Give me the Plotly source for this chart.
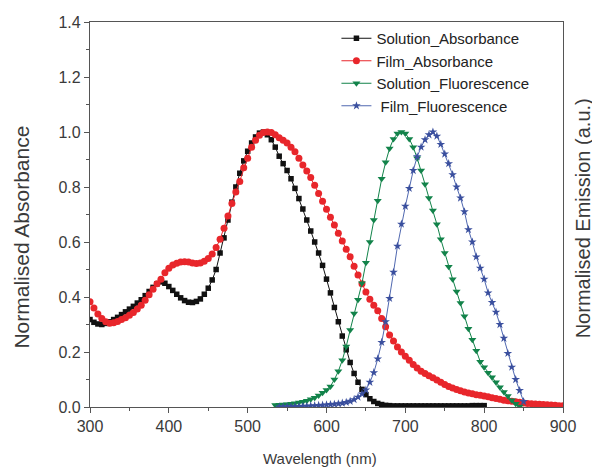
import plotly.graph_objects as go

# ---------------- data ----------------
abs_wl_sol = list(range(300, 805, 5))
sol_abs = [
    0.318, 0.308, 0.302, 0.300, 0.304, 0.310, 0.318, 0.326, 0.336, 0.346,
    0.356, 0.366, 0.378, 0.390, 0.405, 0.420, 0.435, 0.448, 0.455, 0.450,
    0.438, 0.424, 0.410, 0.397, 0.387, 0.381, 0.380, 0.384, 0.393, 0.410,
    0.432, 0.462, 0.500, 0.560, 0.615, 0.680, 0.745, 0.800, 0.850, 0.895,
    0.930, 0.960, 0.982, 0.996, 1.000, 0.990, 0.972, 0.945, 0.912, 0.885,
    0.860, 0.830, 0.795, 0.758, 0.720, 0.680, 0.640, 0.600, 0.560, 0.515,
    0.465, 0.415, 0.362, 0.310, 0.258, 0.208, 0.162, 0.122, 0.090, 0.064,
    0.045, 0.030, 0.020, 0.013, 0.009, 0.006, 0.005, 0.004, 0.004, 0.004,
    0.004, 0.004, 0.004, 0.004, 0.004, 0.004, 0.004, 0.004, 0.004, 0.004,
    0.004, 0.004, 0.004, 0.004, 0.004, 0.004, 0.004, 0.005, 0.005, 0.005,
    0.005,
]

abs_wl_film = list(range(300, 905, 5))
film_abs = [
    0.383, 0.360, 0.338, 0.322, 0.310, 0.305, 0.306, 0.311, 0.318, 0.325,
    0.334, 0.344, 0.356, 0.370, 0.388, 0.408, 0.428, 0.448, 0.465, 0.488,
    0.505, 0.516, 0.523, 0.527, 0.528, 0.527, 0.524, 0.522, 0.524, 0.530,
    0.540, 0.556, 0.580, 0.610, 0.650, 0.695, 0.740, 0.782, 0.820, 0.870,
    0.905, 0.945, 0.970, 0.988, 0.998, 1.000, 0.998, 0.990, 0.979, 0.970,
    0.960, 0.945, 0.928, 0.905, 0.880, 0.858, 0.835, 0.806, 0.776, 0.748,
    0.719, 0.690, 0.662, 0.632, 0.604, 0.574, 0.546, 0.512, 0.480, 0.448,
    0.418, 0.392, 0.370, 0.350, 0.322, 0.292, 0.262, 0.240, 0.218, 0.200,
    0.185, 0.170, 0.155, 0.142, 0.130, 0.122, 0.114, 0.106, 0.098, 0.090,
    0.082, 0.075, 0.069, 0.064, 0.059, 0.055, 0.051, 0.048, 0.045, 0.043,
    0.040, 0.037, 0.034, 0.031, 0.028, 0.025, 0.023, 0.021, 0.019, 0.017,
    0.015, 0.013, 0.012, 0.011, 0.010, 0.009, 0.008, 0.007, 0.006, 0.005,
    0.005,
]

fl_wl_sol = list(range(535, 855, 5))
sol_fl = [
    0.007, 0.008, 0.009, 0.010, 0.012, 0.014, 0.016, 0.019, 0.023, 0.028,
    0.034, 0.042, 0.052, 0.062, 0.075, 0.100, 0.130, 0.170, 0.220, 0.280,
    0.340, 0.390, 0.450, 0.525, 0.600, 0.680, 0.750, 0.830, 0.890, 0.940,
    0.975, 0.995, 1.000, 0.995, 0.975, 0.945, 0.905, 0.860, 0.810, 0.760,
    0.715, 0.665, 0.610, 0.560, 0.510, 0.465, 0.420, 0.378, 0.330, 0.285,
    0.245, 0.205, 0.165, 0.145, 0.125, 0.108, 0.090, 0.072, 0.055, 0.040,
    0.025, 0.012, 0.002,
]

fl_wl_film = list(range(540, 855, 5))
film_fl = [
    0.000, 0.000, 0.001, 0.001, 0.002, 0.002, 0.003, 0.003, 0.004, 0.005,
    0.006, 0.007, 0.008, 0.009, 0.010, 0.012, 0.014, 0.017, 0.021, 0.027,
    0.036, 0.048, 0.062, 0.090, 0.125, 0.175, 0.235, 0.310, 0.395, 0.490,
    0.585, 0.665, 0.730, 0.795, 0.860, 0.910, 0.945, 0.972, 0.990, 1.000,
    0.985, 0.955, 0.920, 0.885, 0.845, 0.800, 0.760, 0.710, 0.645, 0.600,
    0.546, 0.505, 0.465, 0.415, 0.380, 0.345, 0.300, 0.250, 0.195, 0.145,
    0.100, 0.060, 0.020,
]

x_ticks = [300, 400, 500, 600, 700, 800, 900]
y_ticks = [0.0, 0.2, 0.4, 0.6, 0.8, 1.0, 1.2, 1.4]

# ---------------- figure ----------------
FONT = "Liberation Sans, Arial, sans-serif"
TXT = "#3a3a3a"
AX = "#555555"

fig = go.Figure()
fig.add_trace(go.Scatter(
    x=abs_wl_sol, y=sol_abs, name="Solution_Absorbance", mode="lines+markers",
    line=dict(color="#111111", width=1),
    marker=dict(symbol="square", size=5.5, color="#111111"),
))
fig.add_trace(go.Scatter(
    x=abs_wl_film, y=film_abs, name="Film_Absorbance", mode="lines+markers",
    line=dict(color="#e8262b", width=1),
    marker=dict(symbol="circle", size=7, color="#e8262b"),
))
fig.add_trace(go.Scatter(
    x=fl_wl_sol, y=sol_fl, name="Solution_Fluorescence", mode="lines+markers",
    line=dict(color="#12834a", width=1),
    marker=dict(symbol="triangle-down", size=7, color="#12834a"),
))
fig.add_trace(go.Scatter(
    x=fl_wl_film, y=film_fl, name=" Film_Fluorescence", mode="lines+markers",
    line=dict(color="#5068b0", width=1),
    marker=dict(symbol="star", size=6.5, color="#3a4f9e"),
))

axis_common = dict(
    showgrid=False, zeroline=False, showline=True, linecolor=AX, linewidth=1.2,
    mirror=True, ticks="outside", ticklen=5, tickcolor=AX, tickwidth=1,
    tickfont=dict(family=FONT, size=16, color=TXT), automargin=False,
)

fig.update_xaxes(
    range=[300, 900], tickvals=x_ticks,
    minor=dict(ticks="outside", ticklen=3, tickcolor=AX, dtick=50),
    **axis_common,
)
fig.update_yaxes(
    range=[0, 1.4], tickvals=y_ticks, tickformat=".1f",
    minor=dict(ticks="outside", ticklen=3, tickcolor=AX, dtick=0.1),
    **axis_common,
)

fig.add_annotation(
    text="Wavelength (nm)", showarrow=False,
    xref="paper", yref="paper", x=0.487, y=0, yshift=-51, yanchor="middle",
    font=dict(family=FONT, size=15, color=TXT),
)
fig.add_annotation(
    text="Normalised Absorbance", textangle=-90, showarrow=False,
    xref="paper", yref="paper", x=0, xshift=-68, y=0.44, xanchor="center", yanchor="middle",
    font=dict(family=FONT, size=21, color=TXT),
)
fig.add_annotation(
    text="Normalised Emission (a.u.)", textangle=-90, showarrow=False,
    xref="paper", yref="paper", x=1.0, xshift=20, y=0.49, xanchor="center", yanchor="middle",
    font=dict(family=FONT, size=20, color=TXT),
)

# page body has an 8 px default margin, so the figure is 8 px smaller
fig.update_layout(
    width=592, height=461,
    margin=dict(l=82, r=37, t=14, b=62),
    plot_bgcolor="white", paper_bgcolor="white",
    legend=dict(
        x=0.521, y=1.0, xanchor="left", yanchor="top",
        bgcolor="rgba(0,0,0,0)", borderwidth=0,
        font=dict(family=FONT, size=15, color="#222222"),
        tracegroupgap=0, itemwidth=30,
    ),
)

fig.write_html("out.html")
